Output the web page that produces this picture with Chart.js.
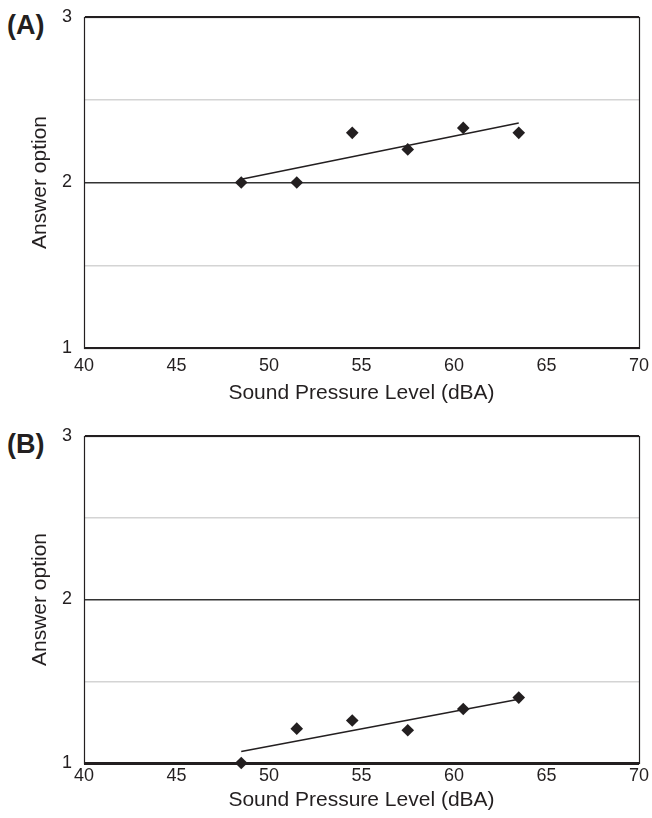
<!DOCTYPE html>
<html>
<head>
<meta charset="utf-8">
<script src="https://cdn.jsdelivr.net/npm/chart.js@4/dist/chart.umd.min.js"></script>
<style>
  html, body { margin: 0; padding: 0; background: #fff; }
  body { width: 652px; height: 818px; position: relative; overflow: hidden; }
  canvas { position: absolute; left: 0; }
  .panel { position: absolute; left: 7px; font: bold 27px "Liberation Sans", Arial, sans-serif; color: #231f20; line-height: 1; }
</style>
</head>
<body>
<div class="panel" id="labA" style="top:12px">(A)</div>
<div class="panel" id="labB" style="top:431px">(B)</div>
<canvas id="chartA" width="652" height="409" style="top:0px"></canvas>
<canvas id="chartB" width="652" height="409" style="top:409px"></canvas>
<script>
// ---- data ----
const soundLevels = [48.5, 51.5, 54.5, 57.5, 60.5, 63.5];      // dBA
const answersA    = [2.00, 2.00, 2.30, 2.20, 2.33, 2.30];
const answersB    = [1.00, 1.21, 1.26, 1.20, 1.33, 1.40];
const trendX      = [48.5, 63.5];
const trendA      = [2.02, 2.36];
const trendB      = [1.07, 1.39];
const xTickValues = [40, 45, 50, 55, 60, 65, 70];
const yTickLabels = ['1', '2', '3'];
const xTitle = 'Sound Pressure Level (dBA)';
const yTitle = 'Answer option';

const FONT = '"Liberation Sans", Arial, sans-serif';
const INK = '#231f20';

const framePlugin = {
  id: 'frame',
  afterDraw(chart) {
    const a = chart.chartArea, ctx = chart.ctx;
    ctx.save();
    ctx.strokeStyle = INK;
    ctx.lineWidth = 1.2;
    ctx.strokeRect(Math.round(a.left) + 0.5, Math.round(a.top) + 0.5,
                   Math.round(a.right - a.left), Math.round(a.bottom - a.top));
    ctx.restore();
  }
};

function noPad(s) { s.paddingTop = 0; s.paddingBottom = 0; s.paddingLeft = 0; s.paddingRight = 0; }

function makeChart(id, answers, trend, L) {
  const pts = soundLevels.map((x, i) => ({ x: x, y: answers[i] }));
  const tr = trendX.map((x, i) => ({ x: x, y: trend[i] }));
  return new Chart(document.getElementById(id), {
    type: 'scatter',
    data: {
      datasets: [
        {
          type: 'line', data: tr, borderColor: INK, borderWidth: 1.5,
          pointRadius: 0, fill: false, tension: 0, order: 2
        },
        {
          data: pts, pointStyle: 'rectRot', pointRadius: 6.3, pointHoverRadius: 6.3,
          backgroundColor: INK, borderColor: INK, borderWidth: 0, clip: false, order: 1
        }
      ]
    },
    plugins: [framePlugin],
    options: {
      responsive: false,
      animation: false,
      events: [],
      layout: { padding: { top: L.top, right: 13, left: 0, bottom: 0 } },
      plugins: { legend: { display: false }, tooltip: { enabled: false } },
      scales: {
        x: {
          type: 'linear', min: 40, max: 70,
          afterBuildTicks: (s) => { s.ticks = xTickValues.map(v => ({ value: v })); },
          afterFit: (s) => { s.height = 409 - L.bottom; noPad(s); },
          grid: { display: false, drawTicks: false },
          border: { display: true, color: INK, width: 1 },
          ticks: { color: INK, font: { family: FONT, size: 18 }, padding: L.xPad, maxRotation: 0 },
          title: { display: true, text: xTitle, color: INK, font: { family: FONT, size: 21 },
                   padding: { top: 0, bottom: L.tPad } }
        },
        y: {
          type: 'linear', min: 1, max: 3,
          ticks: {
            stepSize: 0.5, color: INK, font: { family: FONT, size: 18 }, padding: 12,
            callback: (v) => (Number.isInteger(v) ? yTickLabels[v - 1] : '')
          },
          afterFit: (s) => { s.width = 84; noPad(s); },
          grid: {
            drawTicks: false,
            lineWidth: (c) => (c.tick && c.tick.value === 1 ? L.baseWidth : 1.5),
            color: (c) => {
              const v = c.tick ? c.tick.value : null;
              if (v === 2) return '#333333';
              if (v === 1.5 || v === 2.5) return '#d4d4d4';
              return INK;
            }
          },
          border: { display: true, color: INK, width: 1 },
          title: { display: true, text: yTitle, color: INK, font: { family: FONT, size: 21 },
                   padding: { top: 28, bottom: 0 } }
        }
      }
    }
  });
}

makeChart('chartA', answersA, trendA, { top: 17, bottom: 348, xPad: 7, tPad: 3, baseWidth: 1.5 });
makeChart('chartB', answersB, trendB, { top: 27, bottom: 354, xPad: 2, tPad: 5, baseWidth: 3 });
</script>
</body>
</html>
